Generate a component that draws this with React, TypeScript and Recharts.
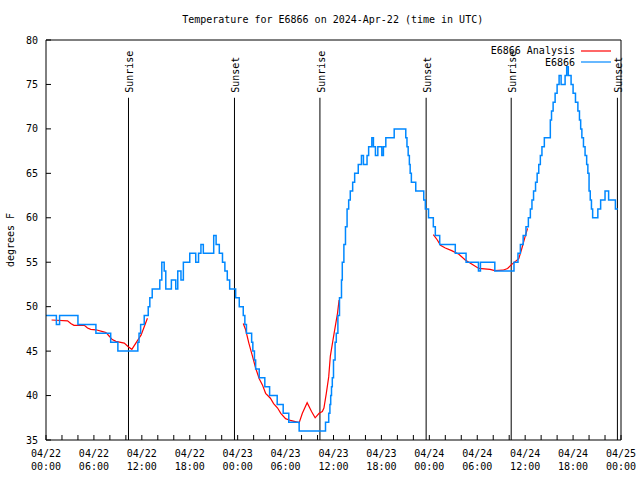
import React from "react";
import {
  LineChart,
  Line,
  XAxis,
  YAxis,
  ReferenceLine,
  Legend,
} from "recharts";

const FONT = "'DejaVu Sans Mono', monospace";

// hours since 04/22 00:00 UTC
const xTicks = [0, 2, 4, 6, 8, 10, 12, 14, 16, 18, 20, 22, 24, 26, 28, 30, 32, 34, 36, 38, 40, 42, 44, 46, 48, 50, 52, 54, 56, 58, 60, 62, 64, 66, 68, 70, 72];
const majorHours = [0, 6, 12, 18, 24, 30, 36, 42, 48, 54, 60, 66, 72];
const tickDates = ["04/22", "04/22", "04/22", "04/22", "04/23", "04/23", "04/23", "04/23", "04/24", "04/24", "04/24", "04/24", "04/25"];
const tickTimes = ["00:00", "06:00", "12:00", "18:00", "00:00", "06:00", "12:00", "18:00", "00:00", "06:00", "12:00", "18:00", "00:00"];
const yTicks = [35, 40, 45, 50, 55, 60, 65, 70, 75, 80];

// sunrise / sunset markers
const sunHours = [10.33, 23.6, 34.3, 47.6, 58.25, 71.55];
const sunNames = ["Sunrise", "Sunset", "Sunrise", "Sunset", "Sunrise", "Sunset"];

const legendOrder = ["E6866 Analysis", "E6866"];

// E6866 observations (step changes)
const obsHours = [
  0, 1.3, 1.7, 4.0, 6.25, 8.1, 9.0, 11.5, 11.65, 11.85, 12.3, 12.8, 13.0, 13.3,
  14.25, 14.5, 14.8, 15.0, 15.7, 16.25, 16.5, 16.9, 17.2, 18.0, 18.75, 19.1, 19.4,
  19.7, 21.0, 21.3, 21.7, 22.1, 22.4, 22.7, 23.0, 23.75, 24.2, 24.7, 24.9, 25.1,
  25.75, 25.9, 26.1, 26.25, 26.7, 27.4, 28.0, 28.95, 29.7, 30.4, 31.7, 35.0, 35.4,
  35.55, 35.65, 35.75, 35.85, 36.0, 36.2, 36.35, 36.55, 36.75, 37.0, 37.1, 37.3,
  37.5, 37.7, 37.9, 38.1, 38.4, 38.65, 39.1, 39.5, 39.75, 40.2, 40.4, 40.8, 41.0,
  41.25, 41.55, 42.05, 42.25, 42.55, 43.6, 45.05, 45.2, 45.35, 45.5, 45.6, 45.75,
  46.3, 47.3, 47.5, 47.9, 48.5, 48.75, 49.3, 51.25, 52.6, 54.15, 54.4, 56.2, 58.6,
  59.1, 59.4, 59.75, 60.1, 60.4, 60.65, 60.85, 61.05, 61.3, 61.5, 61.7, 61.9, 62.1,
  62.4, 63.15, 63.3, 63.5, 63.75, 64.0, 64.25, 64.5, 65.0, 65.2, 65.4, 65.75, 66.0,
  66.3, 66.6, 66.8, 66.95, 67.1, 67.3, 67.5, 67.7, 67.85, 68.0, 68.15, 68.3, 68.45,
  69.1, 69.45, 70.0, 70.45, 71.3, 71.6,
];
const obsTemps = [
  49, 48, 49, 48, 47, 46, 45, 46, 47, 48, 49, 50, 51, 52,
  53, 55, 54, 52, 53, 52, 54, 53, 55, 56, 55, 56, 57,
  56, 58, 57, 56, 55, 54, 53, 52, 51, 50, 49, 48, 47,
  46, 45, 44, 43, 42, 41, 40, 39, 38, 37, 36, 37, 38,
  39, 40, 41, 42, 44, 46, 47, 49, 51, 53, 55, 57,
  59, 61, 62, 63, 64, 65, 66, 67, 66, 67, 68, 69, 68,
  67, 68, 67, 68, 69, 70, 69, 68, 67, 66, 65, 64,
  63, 62, 61, 60, 59, 58, 57, 56, 55, 54, 55, 54, 55,
  56, 57, 58, 59, 60, 61, 62, 63, 64, 65, 66, 67, 68,
  69, 71, 72, 73, 74, 75, 76, 75, 76, 77, 76, 75, 74,
  73, 72, 71, 70, 69, 68, 67, 66, 65, 63, 62, 61, 60,
  61, 62, 63, 62, 61, 61,
];

// E6866 Analysis (null = gap)
const anaHours = [
  0.7, 2.7, 3.1, 3.5, 4.8, 5.2, 5.6, 6.25, 7.1, 7.5, 7.9, 8.3, 8.75, 9.8, 10.3,
  10.75, 11.25, 11.9, 12.3, 12.7,
  18,
  24.7, 25.0, 25.4, 25.8, 26.25, 26.7, 27.1, 27.5, 28.1, 28.5, 29.0, 29.4, 30.0,
  30.6, 31.7, 32.1, 32.7, 33.25, 33.7, 34.2, 34.6, 34.8, 35.1, 35.4, 35.6, 36.0,
  36.5, 36.7,
  42,
  48.5, 49.0, 49.4, 50.0, 50.8, 51.7, 52.5, 53.3, 54.2, 55.6, 56.2, 57.2, 57.8,
  58.25, 59.2, 59.6, 60.0, 60.3,
];
const anaTemps = [
  48.5, 48.4, 48.1, 47.9, 47.9, 47.6, 47.45, 47.4, 47.2, 47.1, 46.7, 46.3, 46.1, 45.9, 45.5,
  45.2, 45.9, 46.8, 47.75, 48.7,
  null,
  48.1, 47.4, 45.9, 44.6, 43.1, 41.9, 41.2, 40.25, 39.7, 39.1, 38.6, 38.0, 37.4,
  37.2, 36.95, 38.0, 39.2, 38.2, 37.5, 38.0, 38.2, 38.6, 40.25, 42.1, 44.4, 46.6,
  49.25, 50.75,
  null,
  58.1, 57.5, 56.9, 56.6, 56.3, 55.9, 55.25, 54.8, 54.3, 54.2, 54.05, 54.1, 54.3,
  54.7, 55.4, 56.6, 57.9, 58.8,
];

const obsData = obsHours.map((h, i) => ({ h, v: obsTemps[i] }));
const anaData = anaHours.map((h, i) => ({ h, v: anaTemps[i] }));

const XTick = (props: any) => {
  const { x, y, payload } = props;
  const i = majorHours.indexOf(payload.value);
  if (i < 0) return null;
  return (
    <text x={x} textAnchor="middle" fontFamily={FONT} fontSize={10} fill="#000">
      <tspan x={x} y={y + 16.5}>{tickDates[i]}</tspan>
      <tspan x={x} y={y + 29.5}>{tickTimes[i]}</tspan>
    </text>
  );
};

const SunLabel = (props: any) => {
  const { viewBox, text } = props;
  const x = viewBox.x + 5;
  const y = viewBox.y - 5;
  return (
    <text
      x={x}
      y={y}
      transform={`rotate(-90 ${x} ${y})`}
      fontFamily={FONT}
      fontSize={10}
      fill="#000"
    >
      {text}
    </text>
  );
};

const LegendBox = (props: any) => {
  const { payload = [] } = props;
  const items = [...payload].sort(
    (a: any, b: any) => legendOrder.indexOf(a.value) - legendOrder.indexOf(b.value),
  );
  return (
    <div style={{ fontFamily: FONT, fontSize: 10, color: "#000" }}>
      {items.map((p: any) => (
        <div
          key={p.value}
          style={{
            display: "flex",
            justifyContent: "flex-end",
            alignItems: "center",
            height: 11.6,
          }}
        >
          <span style={{ marginRight: 6, lineHeight: "11px" }}>{p.value}</span>
          <svg width={30} height={4}>
            <line x1={0} x2={30} y1={2} y2={2} stroke={p.color} strokeWidth={1.2} />
          </svg>
        </div>
      ))}
    </div>
  );
};

export default function App() {
  return (
    <div style={{ position: "absolute", left: 0, top: 0, width: 640, height: 480, background: "#fff" }}>
      <div
        style={{
          position: "absolute",
          left: 0,
          top: 14,
          width: 665.4,
          textAlign: "center",
          fontFamily: FONT,
          fontSize: 10,
          lineHeight: "12px",
          color: "#000",
        }}
      >
        Temperature for E6866 on 2024-Apr-22 (time in UTC)
      </div>
      <LineChart
        width={640}
        height={480}
        margin={{ top: 39, right: 18, bottom: 0, left: 0 }}
      >
        <XAxis
          dataKey="h"
          type="number"
          domain={[0, 72]}
          ticks={xTicks}
          interval={0}
          height={40}
          tickSize={-5}
          tickMargin={5}
          tick={<XTick />}
          stroke="#000"
          tickLine={{ stroke: "#000" }}
        />
        <XAxis
          xAxisId="t"
          orientation="top"
          dataKey="h"
          type="number"
          domain={[0, 72]}
          ticks={xTicks}
          interval={0}
          height={1}
          tickSize={-5}
          tick={false}
          stroke="#000"
          tickLine={{ stroke: "#000" }}
        />
        <YAxis
          type="number"
          domain={[35, 80]}
          ticks={yTicks}
          interval={0}
          width={46}
          tickSize={-5}
          tickMargin={13}
          stroke="#000"
          tickLine={{ stroke: "#000" }}
          tick={{ fill: "#000", fontSize: 10, fontFamily: FONT }}
          label={{
            value: "degrees F",
            angle: -90,
            position: "insideLeft",
            offset: 10,
            textAnchor: "middle",
            style: { fill: "#000", fontSize: 10, fontFamily: FONT },
          }}
        />
        <YAxis
          yAxisId="r"
          orientation="right"
          type="number"
          domain={[35, 80]}
          ticks={yTicks}
          interval={0}
          width={1}
          tickSize={-5}
          tick={false}
          stroke="#000"
          tickLine={{ stroke: "#000" }}
        />
        {sunHours.map((h, i) => (
          <ReferenceLine
            key={i}
            segment={[
              { x: h, y: 35 },
              { x: h, y: 73.5 },
            ]}
            stroke="#000"
            strokeWidth={1}
            label={<SunLabel text={sunNames[i]} />}
          />
        ))}
        <Line
          data={anaData}
          dataKey="v"
          name="E6866 Analysis"
          type="linear"
          stroke="#ff0000"
          strokeWidth={1.2}
          dot={false}
          connectNulls={false}
          isAnimationActive={false}
        />
        <Line
          data={obsData}
          dataKey="v"
          name="E6866"
          type="stepAfter"
          stroke="#0088ff"
          strokeWidth={1.5}
          dot={false}
          isAnimationActive={false}
        />
        <Legend
          layout="vertical"
          align="center"
          verticalAlign="middle"
          content={<LegendBox />}
          wrapperStyle={{ position: "absolute", left: 470, top: 45, width: 141 }}
        />
      </LineChart>
    </div>
  );
}
